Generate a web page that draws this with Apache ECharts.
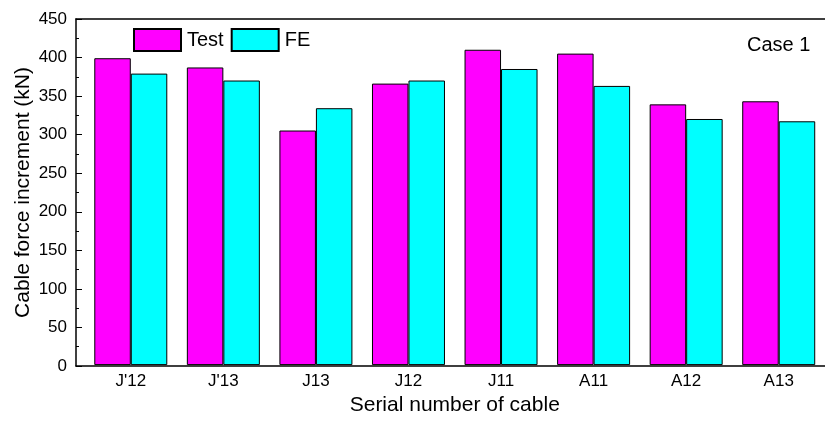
<!DOCTYPE html>
<html>
<head>
<meta charset="utf-8">
<script src="https://cdn.jsdelivr.net/npm/echarts@6/dist/echarts.min.js"></script>
<style>
  html, body { margin: 0; padding: 0; background: #fff; }
  #chart { width: 825px; height: 421px; }
</style>
</head>
<body>
<div id="chart"></div>
<script>
// Cable labels along the horizontal axis
const cables = ["J'12", "J'13", "J13", "J12", "J11", "A11", "A12", "A13"];
// Measured cable force increments (kN)
const testValues = [399, 387, 305, 366, 410, 405, 339, 343];
// Finite element results (kN)
const feValues = [379, 370, 334, 370, 385, 363, 320, 317];
// Vertical axis range and step
const yMin = 0;
const yMax = 450;
const yStep = 50;

const FONT = 'Arial, "Liberation Sans", sans-serif';
const chart = echarts.init(document.getElementById('chart'), null, { renderer: 'canvas' });

const frameLine = { show: true, onZero: false, lineStyle: { color: '#000', width: 1.5 } };

chart.setOption({
  backgroundColor: '#ffffff',
  animation: false,
  textStyle: { fontFamily: FONT, color: '#000' },
  grid: [
    // frame grid carrying the visible value axis, the top and bottom lines
    { left: 76, top: 19, right: 0, bottom: 55 },
    // grid holding the bars and the cable labels
    { left: 84.5, top: 19, width: 741.4, bottom: 55 }
  ],
  xAxis: [
    {
      gridIndex: 0, type: 'value', min: 0, max: 1, position: 'top',
      axisLine: frameLine, axisTick: { show: false }, axisLabel: { show: false }, splitLine: { show: false }
    },
    {
      gridIndex: 0, type: 'value', min: 0, max: 1, position: 'bottom',
      axisLine: frameLine, axisTick: { show: false }, axisLabel: { show: false }, splitLine: { show: false }
    },
    {
      gridIndex: 1,
      type: 'category',
      data: cables,
      axisLine: { show: false },
      axisTick: { show: false },
      axisLabel: { color: '#000', fontSize: 17, margin: 8, fontFamily: FONT },
      name: 'Serial number of cable',
      nameLocation: 'middle',
      nameGap: 27,
      nameTextStyle: { color: '#000', fontSize: 21, fontFamily: FONT, verticalAlign: 'top' }
    }
  ],
  yAxis: [
    {
      gridIndex: 0,
      type: 'value',
      min: yMin,
      max: yMax,
      interval: yStep,
      axisLine: frameLine,
      axisTick: { show: true, inside: true, length: 6, lineStyle: { color: '#000', width: 1 } },
      minorTick: { show: true, splitNumber: 2, length: 3, lineStyle: { color: '#000', width: 1 } },
      splitLine: { show: false },
      axisLabel: { color: '#000', fontSize: 17, margin: 9, fontFamily: FONT },
      name: 'Cable force increment (kN)',
      nameLocation: 'middle',
      nameGap: 42,
      nameMoveOverlap: false,
      nameTextStyle: { color: '#000', fontSize: 21, fontFamily: FONT }
    },
    { gridIndex: 1, type: 'value', min: yMin, max: yMax, show: false }
  ],
  legend: {
    left: 133,
    top: 28,
    padding: 0,
    icon: 'rect',
    itemWidth: 47,
    itemHeight: 22,
    itemGap: 7,
    textStyle: { color: '#000', fontSize: 20, fontFamily: FONT, padding: [0, 0, 0, 1] },
    data: ['Test', 'FE']
  },
  graphic: [
    {
      type: 'text',
      left: 747,
      top: 35,
      style: { text: 'Case 1', fill: '#000', font: '20px ' + FONT }
    }
  ],
  series: [
    {
      name: 'Test',
      type: 'bar',
      xAxisIndex: 2,
      yAxisIndex: 1,
      data: testValues,
      barWidth: 36.5,
      barGap: '0%',
      itemStyle: { color: '#ff00ff', borderColor: '#000', borderWidth: 1 }
    },
    {
      name: 'FE',
      type: 'bar',
      xAxisIndex: 2,
      yAxisIndex: 1,
      data: feValues,
      barWidth: 36.5,
      barGap: '0%',
      itemStyle: { color: '#00ffff', borderColor: '#000', borderWidth: 1 }
    }
  ]
});
</script>
</body>
</html>
